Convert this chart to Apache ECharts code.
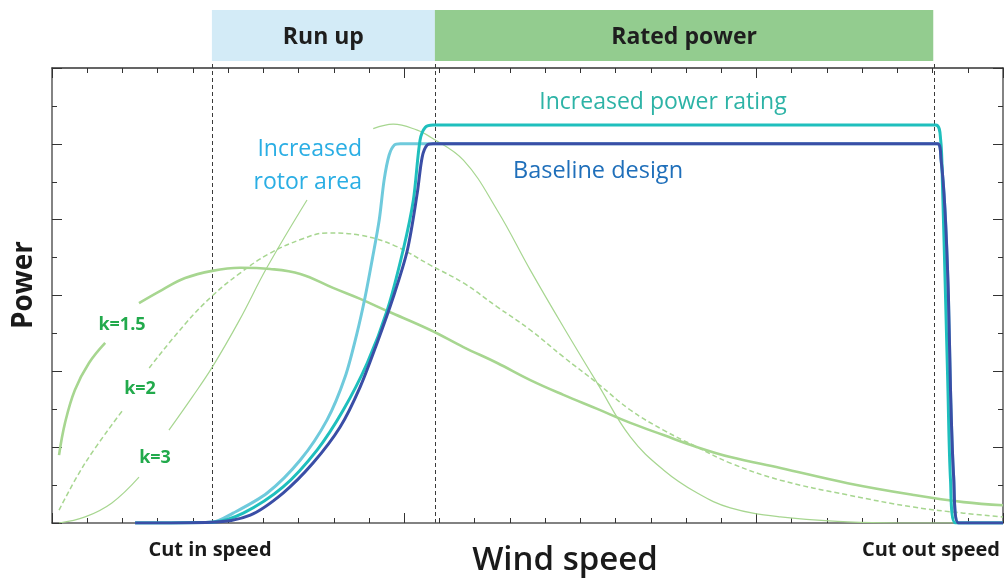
<!DOCTYPE html>
<html>
<head>
<meta charset="utf-8">
<script src="https://cdn.jsdelivr.net/npm/echarts@6/dist/echarts.min.js"></script>
<style>
  html, body { margin: 0; padding: 0; background: #fff; }
  #chart { width: 1004px; height: 579px; }
</style>
</head>
<body>
<div id="chart"></div>
<script>
// Wind speed markers (m/s)
const cutInSpeed = 4.54;
const ratedSpeed = 10.87;
const cutOutSpeed = 25.06;

// Operating regions shown in the band above the plot
const regionNames = ['Run up', 'Rated power'];
const regionEdges = [cutInSpeed, ratedSpeed, 25.02];

// Power curves: [wind speed, power]
const baselineDesign = [
  [2.36, 0], [4.54, 0.02], [5.63, 0.21], [6.56, 0.79], [7.41, 1.58], [8.18, 2.53],
  [8.75, 3.59], [9.23, 4.75], [9.69, 5.96], [10.09, 7.2], [10.37, 8.7], [10.51, 9.65],
  [10.65, 9.97], [10.82, 10.0], [25.14, 10.0], [25.24, 9.6], [25.35, 8.3], [25.45, 6.0],
  [25.51, 3.5], [25.6, 1.2], [25.74, 0], [27, 0]
];
const increasedPowerRating = [
  [2.36, 0], [4.54, 0.02], [5.43, 0.26], [6.56, 0.95], [7.53, 1.93], [8.27, 2.98],
  [8.95, 4.22], [9.52, 5.62], [9.97, 7.2], [10.26, 8.52], [10.45, 10.1], [10.6, 10.44],
  [10.82, 10.5], [25.09, 10.5], [25.23, 10.1], [25.28, 8.97], [25.37, 5.9], [25.43, 3.78],
  [25.51, 1.13], [25.65, 0], [27, 0]
];
const increasedRotorArea = [
  [2.36, 0], [4.54, 0.02], [5.14, 0.26], [6.11, 0.79], [7.05, 1.66], [7.81, 2.72],
  [8.32, 3.85], [8.66, 5.01], [8.89, 5.96], [9.09, 6.94], [9.29, 7.99], [9.43, 9.05],
  [9.57, 9.7], [9.72, 9.97], [9.89, 10.0], [25.14, 10.0], [25.24, 9.6], [25.35, 8.3],
  [25.45, 6.0], [25.51, 3.5], [25.6, 1.2], [25.74, 0], [27, 0]
];

// Wind speed distributions for three Weibull shape factors
const weibullK15 = [
  [0.2, 1.79], [0.37, 2.64], [0.65, 3.51], [1.05, 4.22], [1.51, 4.75], [2.0, null],
  [2.47, 5.8], [3.13, 6.15], [3.78, 6.46], [4.55, 6.65], [5.34, 6.73], [6.19, 6.7],
  [7.05, 6.57], [7.98, 6.2], [8.75, 5.91], [9.52, 5.59], [10.74, 5.09], [11.68, 4.64],
  [12.64, 4.22], [13.58, 3.77], [14.52, 3.38], [15.48, 3.01], [16.42, 2.64], [17.36, 2.32],
  [18.32, 2.0], [19.26, 1.74], [20.68, 1.45], [22.59, 1.05], [24.46, 0.74], [25.88, 0.55],
  [27.0, 0.47]
];
const weibullK2 = [
  [0.2, 0.34], [0.94, 1.58], [1.99, 2.95], [2.4, null], [2.76, 4.09], [3.78, 5.25],
  [4.55, 5.99], [5.31, 6.57], [6.16, 7.1], [7.1, 7.49], [7.81, 7.65], [8.75, 7.59],
  [9.69, 7.33], [10.74, 6.8], [11.68, 6.33], [12.64, 5.7], [13.58, 5.09], [14.52, 4.38],
  [15.48, 3.69], [16.42, 2.98], [17.36, 2.45], [18.32, 2.0], [19.26, 1.58], [20.68, 1.13],
  [22.59, 0.74], [24.46, 0.42], [25.88, 0.26], [27.0, 0.16]
];
const weibullK3 = [
  [0.2, 0], [0.94, 0.16], [1.7, 0.53], [2.47, 1.21], [2.9, null], [3.32, 2.45],
  [3.98, 3.32], [4.55, 4.11], [5.31, 5.33], [6.11, 6.75], [7.24, 8.52], [8.2, null],
  [9.12, 10.4], [9.69, 10.52], [10.37, 10.36], [10.74, 10.18], [11.68, 9.57], [12.64, 8.25],
  [13.58, 6.67], [14.52, 5.17], [15.48, 3.69], [16.42, 2.27], [17.36, 1.4], [18.32, 0.79],
  [19.26, 0.4], [20.68, 0.16], [22.59, 0.03], [24.1, 0], [27, 0]
];

const FONT = '"Open Sans", "Noto Sans", sans-serif';
const AXIS_COLOR = '#5a5a5a';
const CURVE_GREEN = '#a7d690';

const chart = echarts.init(document.getElementById('chart'), null, { renderer: 'canvas' });

function boxAxis(extra) {
  return Object.assign({
    type: 'value',
    axisLine: { show: true, onZero: false, lineStyle: { color: AXIS_COLOR, width: 1.5 } },
    axisTick: { show: true, inside: true, length: 10, lineStyle: { color: '#333', width: 1 } },
    minorTick: { show: true, length: 5, lineStyle: { color: '#333', width: 1 } },
    axisLabel: { show: false },
    splitLine: { show: false },
    minorSplitLine: { show: false }
  }, extra);
}

function powerLine(name, data, color, z) {
  return {
    name, type: 'line', data, xAxisIndex: 0, yAxisIndex: 0,
    showSymbol: false, smooth: 0.3, z,
    lineStyle: { color, width: 3 }
  };
}

function weibullLine(name, data, width, type) {
  return {
    name, type: 'line', data, xAxisIndex: 0, yAxisIndex: 0,
    showSymbol: false, smooth: 0.4, connectNulls: false, z: 1,
    lineStyle: { color: CURVE_GREEN, width, type }
  };
}

const speedMarks = [cutInSpeed, ratedSpeed, cutOutSpeed];

function label(text, x, y, font, fill, extra) {
  return {
    type: 'text', x, y, z: 100,
    style: Object.assign({ text, font, fill, align: 'center', verticalAlign: 'middle' }, extra || {})
  };
}

const option = {
  animation: false,
  backgroundColor: '#ffffff',
  grid: [
    { left: 52, right: 1, top: 68, bottom: 56 },
    { left: 52, right: 1, top: 10, height: 58 }
  ],
  xAxis: [
    boxAxis({ gridIndex: 0, position: 'bottom', min: 0, max: 27, interval: 10,
              minorTick: { show: true, splitNumber: 10, length: 5, lineStyle: { color: '#333' } } }),
    boxAxis({ gridIndex: 0, position: 'top', min: 0, max: 27, interval: 10,
              axisLine: { show: true, onZero: false, lineStyle: { color: '#333', width: 1.5 } },
              minorTick: { show: true, splitNumber: 10, length: 5, lineStyle: { color: '#333' } } }),
    { type: 'value', gridIndex: 1, min: 0, max: 27, show: false }
  ],
  yAxis: [
    boxAxis({ gridIndex: 0, position: 'left', min: 0, max: 12, interval: 2,
              minorTick: { show: true, splitNumber: 2, length: 5, lineStyle: { color: '#333' } } }),
    boxAxis({ gridIndex: 0, position: 'right', min: 0, max: 12, interval: 2,
              minorTick: { show: true, splitNumber: 2, length: 5, lineStyle: { color: '#333' } } }),
    { type: 'value', gridIndex: 1, min: 0, max: 58, show: false }
  ],
  series: [
    weibullLine('k=3', weibullK3, 1.2, 'solid'),
    weibullLine('k=2', weibullK2, 1.5, [5, 3]),
    weibullLine('k=1.5', weibullK15, 2.6, 'solid'),
    powerLine('Increased rotor area', increasedRotorArea, '#6fcadc', 3),
    powerLine('Increased power rating', increasedPowerRating, '#1fbfbd', 4),
    Object.assign(powerLine('Baseline design', baselineDesign, '#3a4ea6', 5), {
      markLine: {
        silent: true, symbol: 'none', z: 0,
        label: { show: false },
        lineStyle: { color: '#3a3a3a', width: 1, type: [4, 3] },
        data: speedMarks.map(v => ({ xAxis: v }))
      }
    }),
    {
      // Region band above the plot
      type: 'line', data: [], xAxisIndex: 2, yAxisIndex: 2, silent: true,
      markArea: {
        silent: true,
        label: { show: true, position: 'inside', fontFamily: FONT, fontSize: 23,
                 fontWeight: 'bold', color: '#1e1e1e', offset: [0, 2] },
        data: regionNames.map((name, i) => [
          { name, xAxis: regionEdges[i], yAxis: 7,
            itemStyle: { color: i === 0 ? '#d3ebf7' : '#93cc8f' } },
          { xAxis: regionEdges[i + 1], yAxis: 58 }
        ])
      },
      markLine: {
        silent: true, symbol: 'none',
        label: { show: false },
        lineStyle: { color: '#3a3a3a', width: 1, type: [4, 3] },
        data: speedMarks.map(v => [{ coord: [v, 0] }, { coord: [v, 7] }])
      }
    }
  ],
  graphic: [
    Object.assign(label('Power', 24, 285, `bold 28px ${FONT}`, '#1a1a1a'), { rotation: Math.PI / 2 }),
    label('Wind speed', 565, 561, `600 33px ${FONT}`, '#1a1a1a'),
    label('Cut in speed', 210, 550, `bold 20px ${FONT}`, '#1a1a1a'),
    label('Cut out speed', 931, 550, `bold 20px ${FONT}`, '#1a1a1a'),
    label('Increased power rating', 663, 102, `23px ${FONT}`, '#2db3a6'),
    label('Baseline design', 598, 171, `23.5px ${FONT}`, '#1f6fba'),
    label('Increased\nrotor area', 362, 166, `23px ${FONT}`, '#2aaee4', { align: 'right', lineHeight: 33 }),
    label('k=1.5', 122, 325, `bold 18px ${FONT}`, '#22aa4c'),
    label('k=2', 140, 389, `bold 18px ${FONT}`, '#22aa4c'),
    label('k=3', 155, 458, `bold 18px ${FONT}`, '#22aa4c')
  ]
};

chart.setOption(option);
</script>
</body>
</html>
